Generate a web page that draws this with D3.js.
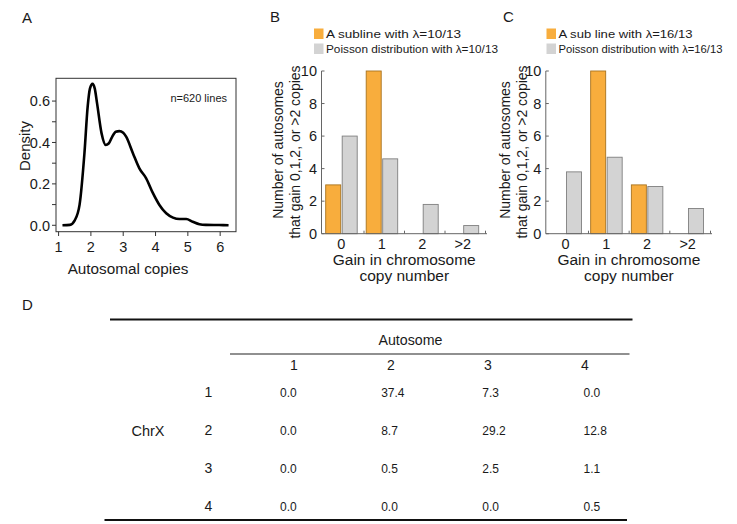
<!DOCTYPE html>
<html><head><meta charset="utf-8">
<script src="https://cdn.jsdelivr.net/npm/d3@7"></script>
<style>
html,body{margin:0;padding:0;background:#fff;}
svg text{font-family:Helvetica, Arial, "Liberation Sans", sans-serif;fill:#1a1a1a;}
</style></head>
<body>
<svg id="chart" width="737" height="524"></svg>
<script>
// ---------- data ----------
const densityX = [1.12,1.35,1.5,1.65,1.8,1.9,1.97,2.05,2.12,2.19,2.33,2.46,2.55,2.65,2.77,2.88,3.0,3.09,3.3,3.5,3.71,3.92,4.12,4.33,4.54,4.74,4.95,5.15,5.36,5.56,5.97,6.26];
const densityY = [0,0.002,0.024,0.1,0.348,0.573,0.66,0.683,0.66,0.59,0.444,0.388,0.395,0.425,0.452,0.455,0.447,0.428,0.348,0.275,0.227,0.155,0.098,0.058,0.037,0.03,0.03,0.017,0.005,0.002,0.001,0];
const densityXTicks = [1,2,3,4,5,6];
const densityYTicks = [0,0.1,0.2,0.3,0.4,0.5,0.6];
const densityYLabels = [0,0.2,0.4,0.6];

const gainCategories = ["0","1","2",">2"];
const seriesKeys = ["subline","poisson"];
const sublineB = [3,10,0,0];
const poissonB = [6.0,4.6,1.8,0.5];
const sublineC = [0,10,3,0];
const poissonC = [3.8,4.7,2.9,1.55];
const countTicks = [0,2,4,6,8,10];
const legendB = ["A subline with \u03bb=10/13","Poisson distribution with \u03bb=10/13"];
const legendC = ["A sub line with \u03bb=16/13","Poisson distribution with \u03bb=16/13"];

const autosomeCols = ["1","2","3","4"];
const chrXRows = ["1","2","3","4"];
const tableValues = [
  [0.0,37.4,7.3,0.0],
  [0.0,8.7,29.2,12.8],
  [0.0,0.5,2.5,1.1],
  [0.0,0.0,0.0,0.5]
];

const svg = d3.select("#chart");
const ORANGE = "#f8ad3d", ORANGE_STROKE = "#a8731f", GRAY = "#d3d3d3", GRAY_STROKE = "#7f7f7f", AXIS = "#666";

// ---------- Panel A ----------
const gA = svg.append("g");
gA.append("text").attr("x",22).attr("y",23).attr("font-size",15).text("A");
const xA = d3.scaleLinear().domain([0.92,6.49]).range([56,236]);
const yA = d3.scaleLinear().domain([-0.031,0.71]).range([231.7,78.3]);
gA.append("rect").attr("x",xA.range()[0]).attr("y",yA.range()[1])
  .attr("width",xA.range()[1]-xA.range()[0]).attr("height",yA.range()[0]-yA.range()[1])
  .attr("fill","none").attr("stroke","#333").attr("stroke-width",1);
gA.selectAll(".yt").data(densityYTicks).join("line")
  .attr("x1",52).attr("x2",56).attr("y1",d=>yA(d)).attr("y2",d=>yA(d)).attr("stroke","#333");
gA.selectAll(".yl").data(densityYLabels).join("text")
  .attr("x",50).attr("y",d=>yA(d)).attr("dy","0.36em").attr("text-anchor","end")
  .attr("font-size",14.5).text(d=>d3.format(".1f")(d));
gA.selectAll(".xt").data(densityXTicks).join("line")
  .attr("x1",d=>xA(d)).attr("x2",d=>xA(d)).attr("y1",231.7).attr("y2",236).attr("stroke","#333");
gA.selectAll(".xl").data(densityXTicks).join("text")
  .attr("x",d=>xA(d)).attr("y",252).attr("text-anchor","middle").attr("font-size",14.5).text(d=>d);
gA.append("path").datum(densityX.map((x,i)=>[x,densityY[i]]))
  .attr("d",d3.line().x(d=>xA(d[0])).y(d=>yA(d[1])).curve(d3.curveMonotoneX))
  .attr("fill","none").attr("stroke","#000").attr("stroke-width",2.6).attr("stroke-linejoin","round");
gA.append("text").attr("x",227).attr("y",102).attr("text-anchor","end").attr("font-size",11).text("n=620 lines");
gA.append("text").attr("transform","translate(30,146) rotate(-90)").attr("text-anchor","middle")
  .attr("font-size",15).text("Density");
gA.append("text").attr("x",128).attr("y",273.5).attr("text-anchor","middle").attr("font-size",15.3).text("Autosomal copies");

// ---------- Panels B & C ----------
function barPanel(opt){
  const g = svg.append("g");
  g.append("text").attr("x",opt.labelX).attr("y",22).attr("font-size",15).text(opt.label);
  const x0 = d3.scaleBand().domain(gainCategories).range(opt.range);
  const x1 = d3.scaleBand().domain(seriesKeys).range([0.7,32.2]).paddingInner(0.09);
  const y = d3.scaleLinear().domain([0,10]).range([233.7,71]);
  const axisX = opt.range[0]-3.5;
  // legend
  const leg = [[ORANGE,opt.legend[0]],[GRAY,opt.legend[1]]];
  leg.forEach((l,i)=>{
    g.append("rect").attr("x",opt.legX).attr("y",28.5+i*15).attr("width",9.5).attr("height",10.5).attr("fill",l[0]);
    g.append("text").attr("x",opt.legX+12).attr("y",38+i*15).attr("font-size",11.8)
      .attr("textLength",opt.legLen[i]).attr("lengthAdjust","spacingAndGlyphs").text(l[1]);
  });
  // bars
  const rows = gainCategories.map((c,i)=>({c, vals:[{k:"subline",v:opt.sub[i]},{k:"poisson",v:opt.poi[i]}]}));
  const grp = g.selectAll(".grp").data(rows).join("g").attr("transform",d=>`translate(${x0(d.c)},0)`);
  grp.selectAll("rect").data(d=>d.vals.filter(v=>v.v>0)).join("rect")
    .attr("x",d=>x1(d.k)).attr("width",x1.bandwidth())
    .attr("y",d=>y(d.v)).attr("height",d=>y(0)-y(d.v))
    .attr("fill",d=>d.k==="subline"?ORANGE:GRAY)
    .attr("stroke",d=>d.k==="subline"?ORANGE_STROKE:GRAY_STROKE).attr("stroke-width",0.9);
  // axes
  g.append("line").attr("x1",axisX).attr("x2",axisX).attr("y1",y(10)).attr("y2",y(0)).attr("stroke",AXIS);
  g.append("line").attr("x1",axisX).attr("x2",opt.range[1]).attr("y1",y(0)).attr("y2",y(0)).attr("stroke",AXIS);
  g.selectAll(".yt").data(countTicks).join("line")
    .attr("x1",axisX).attr("x2",axisX+3).attr("y1",d=>y(d)).attr("y2",d=>y(d)).attr("stroke",AXIS);
  g.selectAll(".yl").data(countTicks).join("text")
    .attr("x",axisX-4.5).attr("y",d=>y(d)).attr("dy","0.36em").attr("text-anchor","end").attr("font-size",14.5).text(d=>d);
  g.selectAll(".xt").data(gainCategories).join("line")
    .attr("x1",d=>x0(d)+x0.bandwidth()-1.5).attr("x2",d=>x0(d)+x0.bandwidth()-1.5)
    .attr("y1",y(0)).attr("y2",y(0)-3).attr("stroke",AXIS);
  g.selectAll(".xl").data(gainCategories).join("text")
    .attr("x",d=>x0(d)+x0.bandwidth()/2-4).attr("y",249).attr("text-anchor","middle").attr("font-size",14.5).text(d=>d);
  const cx = (axisX+opt.range[1])/2;
  g.append("text").attr("x",cx).attr("y",264.5).attr("text-anchor","middle").attr("font-size",15.5).text("Gain in chromosome");
  g.append("text").attr("x",cx).attr("y",280.5).attr("text-anchor","middle").attr("font-size",15.5).text("copy number");
  g.append("text").attr("transform",`translate(${opt.titleX},150) rotate(-90)`).attr("text-anchor","middle")
    .attr("font-size",14).text("Number of autosomes");
  g.append("text").attr("transform",`translate(${opt.titleX+17},152) rotate(-90)`).attr("text-anchor","middle")
    .attr("font-size",14).text("that gain 0,1,2, or >2 copies");
}
barPanel({label:"B",labelX:270,range:[325,487],sub:sublineB,poi:poissonB,legend:legendB,legX:314,legLen:[135,172],titleX:283});
barPanel({label:"C",labelX:503,range:[549.3,712],sub:sublineC,poi:poissonC,legend:legendC,legX:546.5,legLen:[134,164],titleX:509.5});

// ---------- Panel D (table) ----------
const gD = svg.append("g");
gD.append("text").attr("x",22).attr("y",310).attr("font-size",15).text("D");
gD.append("line").attr("x1",110).attr("x2",632.5).attr("y1",319.5).attr("y2",319.5).attr("stroke","#111").attr("stroke-width",2);
gD.append("line").attr("x1",230).attr("x2",629.5).attr("y1",354).attr("y2",354).attr("stroke","#222").attr("stroke-width",1.2);
gD.append("line").attr("x1",104.5).attr("x2",627).attr("y1",520).attr("y2",520).attr("stroke","#111").attr("stroke-width",2);
gD.append("text").attr("x",378.5).attr("y",345).attr("font-size",14.2).text("Autosome");
const colHead = d3.scalePoint().domain(autosomeCols).range([294,585]);
const colData = d3.scalePoint().domain(autosomeCols).range([280,583.5]);
const rowY = d3.scalePoint().domain(chrXRows).range([393,507]);
gD.selectAll(".ch").data(autosomeCols).join("text")
  .attr("x",d=>colHead(d)).attr("y",365).attr("dy","0.36em").attr("text-anchor","middle").attr("font-size",14).text(d=>d);
gD.selectAll(".rl").data(chrXRows).join("text")
  .attr("x",208.5).attr("y",d=>rowY(d)).attr("dy","0.3em").attr("text-anchor","middle").attr("font-size",14).text(d=>d);
gD.append("text").attr("x",148).attr("y",rowY("2")).attr("dy","0.36em").attr("text-anchor","middle").attr("font-size",14.5).text("ChrX");
chrXRows.forEach((r,i)=>{
  gD.selectAll(".cell"+i).data(tableValues[i]).join("text")
    .attr("x",(d,j)=>colData(autosomeCols[j])).attr("y",rowY(r)).attr("dy","0.36em")
    .attr("font-size",12).text(d=>d3.format(".1f")(d));
});
</script>
</body></html>
